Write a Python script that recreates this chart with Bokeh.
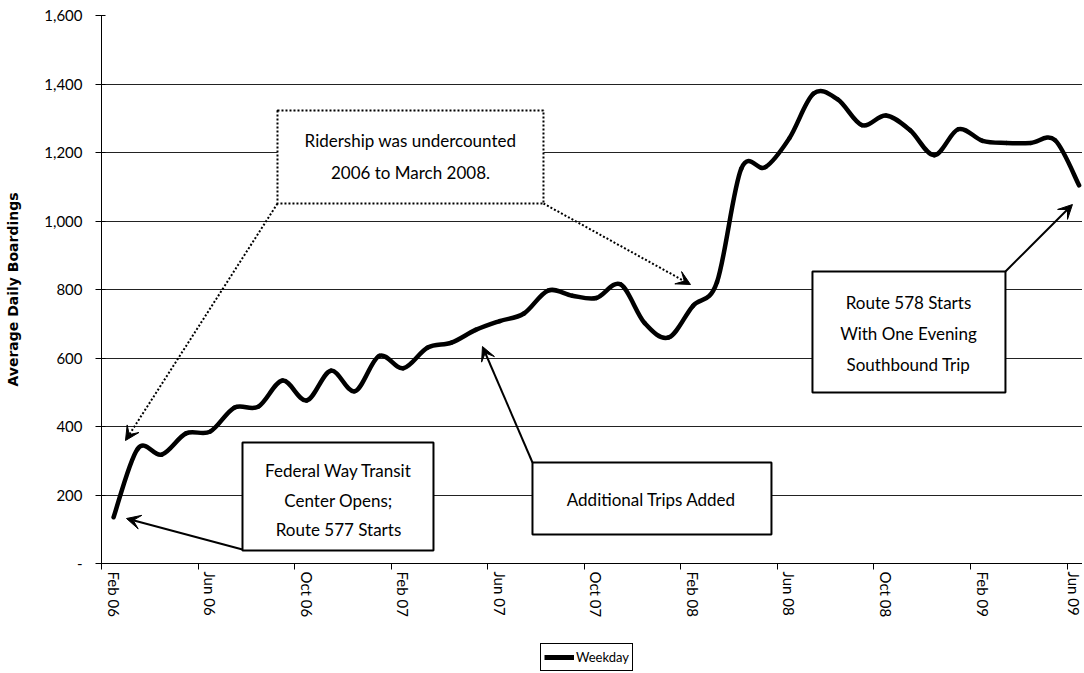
from bokeh.plotting import figure
from bokeh.layouts import column
from bokeh.models import (Range1d, FixedTicker, BoxAnnotation, Label, Arrow, VeeHead,
                          Legend, LegendItem)
from bokeh.embed import file_html
from bokeh.resources import INLINE

# ---------------- data ----------------
months = ["Feb 06", "Mar 06", "Apr 06", "May 06", "Jun 06", "Jul 06", "Aug 06", "Sep 06",
          "Oct 06", "Nov 06", "Dec 06", "Jan 07", "Feb 07", "Mar 07", "Apr 07", "May 07",
          "Jun 07", "Jul 07", "Aug 07", "Sep 07", "Oct 07", "Nov 07", "Dec 07", "Jan 08",
          "Feb 08", "Mar 08", "Apr 08", "May 08", "Jun 08", "Jul 08", "Aug 08", "Sep 08",
          "Oct 08", "Nov 08", "Dec 08", "Jan 09", "Feb 09", "Mar 09", "Apr 09", "May 09",
          "Jun 09"]
weekday = [135, 335, 318, 380, 385, 455, 458, 534, 476, 563, 503, 606, 570, 630, 645, 682,
           708, 730, 797, 782, 775, 815, 702, 660, 752, 822, 1152, 1157, 1242, 1372, 1355, 1280,
           1308, 1265, 1192, 1268, 1234, 1228, 1228, 1236, 1104]
y_ticks = [0, 200, 400, 600, 800, 1000, 1200, 1400, 1600]
y_tick_labels = ["-", "200", "400", "600", "800", "1,000", "1,200", "1,400", "1,600"]
x_label_step = 4
series_name = "Weekday"

FONT = "Lato"
W = 1082

p = figure(width=W, height=640, output_backend="svg", toolbar_location=None,
           x_range=Range1d(-0.5, 40.14), y_range=Range1d(0, 1600),
           min_border_left=101, min_border_right=0, min_border_top=15, min_border_bottom=77)
p.outline_line_color = None
p.background_fill_color = "white"
p.border_fill_color = "white"

# axes
p.yaxis.ticker = FixedTicker(ticks=y_ticks)
p.yaxis.major_label_overrides = {t: l for t, l in zip(y_ticks, y_tick_labels)}
p.yaxis.axis_label = "Average Daily Boardings"
p.yaxis.axis_label_text_font = "DejaVu Sans"
p.yaxis.axis_label_text_font_style = "bold"
p.yaxis.axis_label_text_font_size = "14px"
p.yaxis.axis_label_text_color = "black"
p.yaxis.axis_label_standoff = 20
p.yaxis.major_label_text_font = FONT
p.yaxis.major_label_text_font_size = "15px"
p.yaxis.major_label_text_color = "black"
p.yaxis.major_label_standoff = 13
p.yaxis.major_tick_out = 6
p.yaxis.major_tick_in = 4
p.yaxis.minor_tick_line_color = None
p.yaxis.axis_line_color = "black"
p.yaxis.major_tick_line_color = "black"

n = len(months)
xt = list(range(0, n, x_label_step))
p.xaxis.ticker = FixedTicker(ticks=xt, minor_ticks=[t - 0.5 for t in xt])
p.xaxis.major_label_overrides = {i: months[i] for i in xt}
p.xaxis.major_label_orientation = "vertical"
p.xaxis.major_label_text_font = FONT
p.xaxis.major_label_text_font_size = "15px"
p.xaxis.major_label_text_color = "black"
p.xaxis.major_label_standoff = 2
p.xaxis.major_tick_out = 0
p.xaxis.major_tick_in = 0
p.xaxis.minor_tick_out = 6
p.xaxis.minor_tick_in = 0
p.xaxis.minor_tick_line_color = "black"
p.xaxis.axis_line_color = "black"

p.xgrid.grid_line_color = None
p.ygrid.ticker = FixedTicker(ticks=y_ticks)
p.ygrid.grid_line_color = "#222222"
p.ygrid.grid_line_width = 1

# smoothed line (Excel-style bezier segments built from the data points)
xs = list(range(n))
x0, y0, x1, y1, cx0, cy0, cx1, cy1 = ([] for _ in range(8))
for i in range(n - 1):
    pa = i - 1 if i > 0 else i
    pd = i + 2 if i + 2 < n else i + 1
    x0.append(xs[i]); y0.append(weekday[i])
    x1.append(xs[i + 1]); y1.append(weekday[i + 1])
    cx0.append(xs[i] + (xs[i + 1] - xs[pa]) / 6.0)
    cy0.append(weekday[i] + (weekday[i + 1] - weekday[pa]) / 6.0)
    cx1.append(xs[i + 1] - (xs[pd] - xs[i]) / 6.0)
    cy1.append(weekday[i + 1] - (weekday[pd] - weekday[i]) / 6.0)
p.bezier(x0=x0, y0=y0, x1=x1, y1=y1, cx0=cx0, cy0=cy0, cx1=cx1, cy1=cy1,
         line_color="black", line_width=4.5, line_cap="round")


# ---------------- annotations (positions from reference pixel geometry) ----------------
def xd(px):
    return (px - 101) / 24.14 - 0.5


def yd(py):
    return (563 - py) * 1600 / 548.0


def arrow(xa, ya, xb, yb, dash="solid"):
    p.add_layout(Arrow(x_start=xd(xa), y_start=yd(ya), x_end=xd(xb), y_end=yd(yb),
                       line_color="black", line_width=2, line_dash=dash,
                       end=VeeHead(size=14, fill_color="black", line_color="black")))


arrow(277, 203, 125, 440, "2 2")
arrow(543, 203, 690, 284, "2 2")
arrow(242, 549, 126, 518)
arrow(532, 462, 482, 346)
arrow(1005, 271, 1072, 204)


def box(l, r, t, b, dash="solid"):
    p.add_layout(BoxAnnotation(left=xd(l), right=xd(r), top=yd(t), bottom=yd(b),
                               fill_color="white", fill_alpha=1, line_color="black",
                               line_width=2, line_dash=dash, line_alpha=1))


def text(cx, cy, s):
    p.add_layout(Label(x=xd(cx), y=yd(cy), text=s, text_align="center",
                       text_baseline="middle", text_font=FONT, text_font_size="17px",
                       text_color="black"))


box(277, 543, 110, 203, "2 2")
text(410, 140, "Ridership was undercounted")
text(410, 172, "2006 to March 2008.")

box(242, 433, 442, 550)
text(338, 470, "Federal Way Transit")
text(338, 500, "Center Opens;")
text(338, 529, "Route 577 Starts")

box(532, 771, 462, 534)
text(651, 499, "Additional Trips Added")

box(812, 1005, 271, 392)
text(908, 302, "Route 578 Starts")
text(908, 333, "With One Evening")
text(908, 364, "Southbound Trip")

# ---------------- legend strip (frame aligned with the chart's frame) ----------------
q = figure(width=W, height=31, output_backend="svg", toolbar_location=None,
           x_range=Range1d(0, 1), y_range=Range1d(0, 1),
           x_axis_location=None, y_axis_location=None, min_border=0)
q.outline_line_color = None
q.grid.grid_line_color = None
# legend proxy: a line kept outside the strip's visible range
proxy = q.line(x=[-3, -2], y=[-3, -3], line_color="black", line_width=5)
legend = Legend(items=[LegendItem(label=series_name, renderers=[proxy])],
                location=(439, 0), margin=0, padding=3, spacing=0,
                glyph_width=30, glyph_height=20, label_height=20, label_standoff=2,
                label_text_font=FONT, label_text_font_size="13px",
                label_text_color="black",
                border_line_color="black", border_line_width=1, border_line_alpha=1,
                background_fill_color="white", background_fill_alpha=1)
q.add_layout(legend)

open("out.html", "w").write(file_html(column(p, q, spacing=0), INLINE))
